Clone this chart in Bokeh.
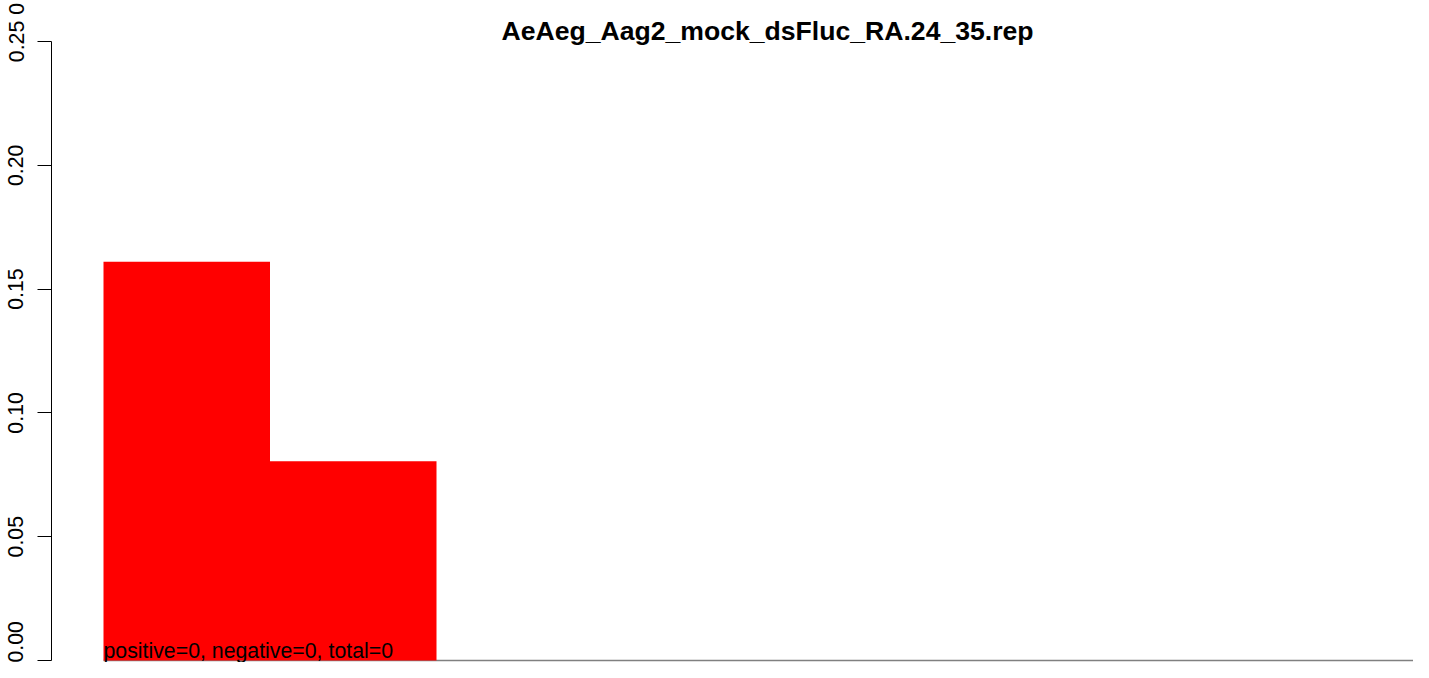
import math
from bokeh.plotting import figure
from bokeh.models import Label, FixedTicker, PrintfTickFormatter, ColumnDataSource
from bokeh.embed import file_html
from bokeh.resources import INLINE

# ---- data ----
title_text = "AeAeg_Aag2_mock_dsFluc_RA.24_35.rep"
bar_index = [0, 1]
bar_values = [0.161, 0.0805]
y_ticks = [0.0, 0.05, 0.10, 0.15, 0.20, 0.25]
note_text = "positive=0, negative=0, total=0"
top_label = "\u00a0\u00a0\u00a00.25\u00a00"   # "0.25" followed by a stray "0" as in the source image

# ---- layout ----
W, H = 1413, 662
PX_PER_Y = 2476.0          # pixels per y unit
Y0_PIX = 660.0             # canvas row of y = 0
PX_PER_X = 166.5           # pixels per bar
X0_PIX = 103.0             # canvas column of first bar's left edge
FRAME_LEFT = 51

x_start = (FRAME_LEFT - X0_PIX) / PX_PER_X
x_end = (W - X0_PIX) / PX_PER_X
y_end = Y0_PIX / PX_PER_Y
y_start = (Y0_PIX - H) / PX_PER_Y

p = figure(width=W, height=H, output_backend="svg", toolbar_location=None,
           x_range=(x_start, x_end), y_range=(y_start, y_end),
           min_border_left=FRAME_LEFT, min_border_right=0, min_border_top=0,
           min_border_bottom=0)
p.outline_line_color = None
p.xgrid.visible = False
p.ygrid.visible = False
p.xaxis.visible = False
p.background_fill_color = "white"
p.border_fill_color = "white"

yax = p.yaxis[0]
yax.bounds = (min(y_ticks), max(y_ticks))
yax.ticker = FixedTicker(ticks=y_ticks, minor_ticks=[])
yax.formatter = PrintfTickFormatter(format="%.2f")
yax.major_label_overrides = {max(y_ticks): top_label}
yax.major_label_orientation = "vertical"
yax.major_label_text_font = "Liberation Sans"
yax.major_label_text_font_size = "21.3px"
yax.major_label_text_color = "black"
yax.major_tick_in = 0
yax.major_tick_out = 14
yax.major_label_standoff = 9
yax.minor_tick_line_color = None
yax.axis_line_color = "black"
yax.major_tick_line_color = "black"
yax.axis_line_width = 1

# baseline from first bar to end of range
p.segment(x0=[min(bar_index)], y0=[0], x1=[x_end + 1], y1=[0],
          line_color="#808080", line_width=1.5)

src = ColumnDataSource(dict(x=[i + 0.5 for i in bar_index], top=bar_values))
p.vbar(x="x", top="top", bottom=0, width=1.0, source=src,
       fill_color="#FF0000", line_color=None)

# note text: vertical centre ~650 px (baseline ~657)
p.add_layout(Label(x=min(bar_index), y=(Y0_PIX - 650) / PX_PER_Y, text=note_text,
                   text_font="Liberation Sans", text_font_size="21.3px",
                   text_color="black", text_align="left",
                   text_baseline="middle"))

# title: vertical centre ~30 px
p.add_layout(Label(x=(767 - X0_PIX) / PX_PER_X, y=(Y0_PIX - 30) / PX_PER_Y,
                   text=title_text,
                   text_font="Liberation Sans", text_font_size="26.6px",
                   text_font_style="bold", text_color="black",
                   text_align="center", text_baseline="middle"))

open("out.html", "w").write(file_html(p, INLINE))
